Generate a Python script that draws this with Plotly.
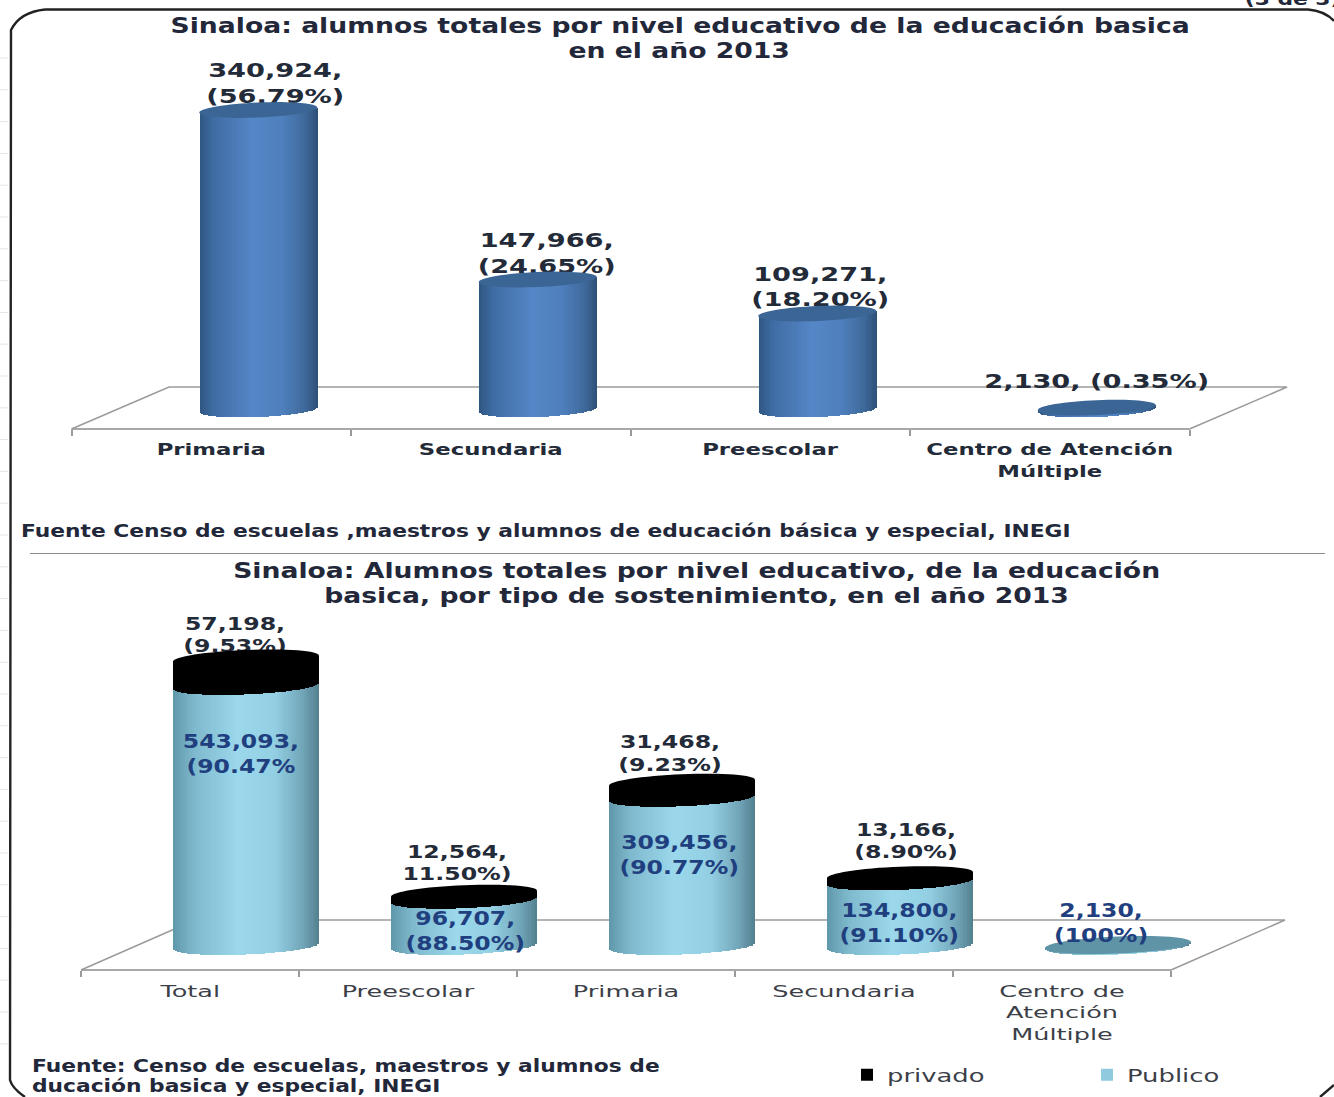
import math
import plotly.graph_objects as go

# ---------- data ----------
top_categories = ["Primaria", "Secundaria", "Preescolar", "Centro de Atención<br>Múltiple"]
top_values = [340924, 147966, 109271, 2130]
top_labels = ["340,924,<br>(56.79%)", "147,966,<br>(24.65%)", "109,271,<br>(18.20%)", "2,130, (0.35%)"]

bot_categories = ["Total", "Preescolar", "Primaria", "Secundaria", "Centro de<br>Atención<br>Múltiple"]
bot_publico = [543093, 96707, 309456, 134800, 2130]
bot_privado = [57198, 12564, 31468, 13166, 0]
bot_pub_labels = ["543,093,<br>(90.47%", "96,707,<br>(88.50%)", "309,456,<br>(90.77%)", "134,800,<br>(91.10%)", "2,130,<br>(100%)"]
bot_priv_labels = ["57,198,<br>(9.53%)", "12,564,<br>11.50%)", "31,468,<br>(9.23%)", "13,166,<br>(8.90%)", ""]

# ---------- layout constants (pixels) ----------
W, H = 1334, 1097
FONT = "DejaVu Sans"
N = 70
# text sizes; the source picture's letters are stretched sideways, so each size has a horizontal stretch
S_TITLE, S_TOPLAB, S_NOTE, S_TICK_B, S_TICK_R, S_PRIV, S_PUB, S_LEG = 20.5, 20, 18, 16.5, 16.6, 17, 19, 18.2
STRETCH = {S_TITLE: 1.30, S_TOPLAB: 1.36, S_NOTE: 1.21, S_TICK_B: 1.38, S_TICK_R: 1.54, S_PRIV: 1.39, S_PUB: 1.24, S_LEG: 1.42}


def px(x):
    return x / W


def py(y):
    return 1 - y / H


def hexrgb(c):
    return tuple(int(c[i:i + 2], 16) for i in (1, 3, 5))


def grad(stops, t):
    for (t0, c0), (t1, c1) in zip(stops, stops[1:]):
        if t <= t1:
            f = (t - t0) / (t1 - t0)
            a, b = hexrgb(c0), hexrgb(c1)
            return "#%02x%02x%02x" % tuple(round(a[i] + (b[i] - a[i]) * f) for i in range(3))
    return stops[-1][1]


BLUE = [(0, "#2f5682"), (.12, "#3f6ca3"), (.45, "#5586c6"), (.7, "#4f80bd"), (.9, "#3d6899"), (1, "#2e5077")]
AQUA = [(0, "#5f97aa"), (.15, "#7fb9cd"), (.45, "#9bd8ec"), (.7, "#93cfe3"), (.9, "#6fa3b5"), (1, "#527f8e")]

# chart geometry
T = dict(x0=71.5, step=279.5, front=429, back=387, base=409.5, top=40, right=1287, ppv=299.5 / 340924,
         off=47 / 279.5, a=59 / 279.5, b=7.5, tilt=2.5)
B = dict(x0=81, step=218, front=970, back=920, base=946, top=600, right=1285, ppv=287.5 / 600291,
         off=56 / 218, a=73 / 218, b=8.5, tilt=3)


def ellipse_path(cx, cy, g):
    pts = []
    for k in range(64):
        th = 2 * math.pi * k / 64
        u = math.cos(th)
        pts.append((cx + g["off"] + g["a"] * u, cy + (g["b"] * math.sin(th) + g["tilt"] * u) / g["ppv"]))
    return "M" + "L".join(f"{x:.4f},{y:.1f}" for x, y in pts) + "Z"


def strips(fig, g, xs, bottoms, tops, xa, ya, stops=None, color=None, name=None, rank=None):
    ww = 2 * g["a"] / N
    for i in range(N):
        t = (i + .5) / N
        u = 2 * t - 1
        low = (-g["b"] * math.sqrt(1 - u * u) + g["tilt"] * u) / g["ppv"]
        up = g["tilt"] * u / g["ppv"]
        base = [b + low for b in bottoms]
        hgt = [0 if tp == b else tp + up - (b + low) for b, tp in zip(bottoms, tops)]
        show = name is not None and i == int(N * .72)
        fig.add_bar(x=xs, y=hgt, base=base, width=ww * 1.2, offset=g["off"] + u * g["a"] - ww * .6,
                    marker=dict(color=color or grad(stops, t), line_width=0), xaxis=xa, yaxis=ya,
                    showlegend=show, name=name, legendrank=rank, hoverinfo="skip")


fig = go.Figure()

# ---------- top chart ----------
tx = list(range(len(top_categories)))
strips(fig, T, tx, [0] * len(tx), top_values, "x", "y", stops=BLUE)
top_label_dx = [17, 9, 3, 0]
fig.add_scatter(x=[i + T["off"] + d / T["step"] for i, d in zip(tx, top_label_dx)],
                y=[v + 25 / T["ppv"] for v in top_values], text=top_labels, mode="text",
                textposition="middle center", cliponaxis=False, showlegend=False, hoverinfo="skip",
                textfont=dict(family=FONT, weight="bold", size=S_TOPLAB, color="#232a38"), xaxis="x", yaxis="y")

# ---------- bottom chart ----------
bx = list(range(len(bot_categories)))
totals = [a + b for a, b in zip(bot_publico, bot_privado)]
strips(fig, B, bx, [0] * len(bx), bot_publico, "x2", "y2", stops=AQUA, name="Publico", rank=2)
strips(fig, B, bx, bot_publico, totals, "x2", "y2", color="#000000", name="privado", rank=1)
priv_dx = [-11, -7, -12, 6, 0]
priv_dy = [22, 28.5, 27.5, 32, 0]
fig.add_scatter(x=[i + B["off"] + d / B["step"] for i, d in zip(bx, priv_dx)],
                y=[v + d / B["ppv"] for v, d in zip(totals, priv_dy)], text=bot_priv_labels, mode="text",
                textposition="middle center", cliponaxis=False, showlegend=False, hoverinfo="skip",
                textfont=dict(family=FONT, weight="bold", size=S_PRIV, color="#232a38"), xaxis="x2", yaxis="y2")

# ---------- shapes ----------
shapes = []
for i, v in zip(tx, top_values):
    shapes.append(dict(type="path", xref="x", yref="y", path=ellipse_path(i, v, T), fillcolor="#3a6595",
                       line_width=0, layer="above"))
for i, v, p in zip(bx, totals, bot_privado):
    shapes.append(dict(type="path", xref="x2", yref="y2", path=ellipse_path(i, v, B),
                       fillcolor="#000000" if p else "#5f93a6", line_width=0, layer="above"))


def pline(points, color, width):
    d = "M" + "L".join(f"{px(x):.5f},{py(y):.5f}" for x, y in points)
    return dict(type="path", xref="paper", yref="paper", path=d, line=dict(color=color, width=width), layer="below")


for g, n_cat in ((T, 4), (B, 5)):
    x_end = g["x0"] + n_cat * g["step"]
    shapes.append(pline([(g["x0"], g["front"]), (x_end, g["front"])], "#a8a8a8", 2.2))
    shapes.append(pline([(g["x0"], g["front"]), (g["right"] - n_cat * g["step"], g["back"]), (g["right"], g["back"]),
                         (x_end, g["front"])], "#9a9a9a", 1.5))

# frame
frame_left = f"M{px(45)},{py(9.5)}Q{px(20)},{py(12)} {px(11)},{py(30)}L{px(10)},{py(1080)}Q{px(12)},{py(1088)} {px(25)},{py(1097)}"
frame_top = f"M{px(45)},{py(9.5)}L{px(1308)},{py(9.5)}Q{px(1325)},{py(11)} {px(1334)},{py(21)}"
frame_br = f"M{px(1320)},{py(1097)}L{px(1334)},{py(1085)}"
for d in (frame_left, frame_top, frame_br):
    shapes.append(dict(type="path", xref="paper", yref="paper", path=d, line=dict(color="#222222", width=2.4), layer="below"))
shapes.append(pline([(30, 553.5), (1325, 553.5)], "#8c8c8c", 1.2))
for k in range(32):
    yy = 58 + 31.8 * k
    shapes.append(pline([(0, yy), (8, yy)], "#e2e5ea", 1))


# ---------- text ----------
def note(x, y, text, size, anchor="center", color="#22283a"):
    return dict(xref="paper", yref="paper", x=px(x), y=py(y), text=text, showarrow=False, xanchor=anchor,
                yanchor="middle", align=anchor, font=dict(family=FONT, weight="bold", size=size, color=color))


annotations = [
    note(680, 26, "Sinaloa: alumnos totales por nivel educativo de la educación basica", S_TITLE),
    note(679, 51, "en el año 2013", S_TITLE),
    note(696, 571, "Sinaloa: Alumnos totales por nivel educativo, de la educación", S_TITLE),
    note(696, 596, "basica, por tipo de sostenimiento, en el año 2013", S_TITLE),
    note(19, 530, "Fuente Censo de escuelas ,maestros y alumnos de educación básica y especial, INEGI", S_NOTE, "left"),
    note(30, 1065.5, "Fuente: Censo de escuelas, maestros y alumnos de", S_NOTE, "left"),
    note(30, 1085.5, "ducación basica y especial, INEGI", S_NOTE, "left"),
    note(1292, -2, "(3 de 3)", S_NOTE),
]
pub_dx = [-5, 1, -3, -1, -17]
pub_yshift = [-68, -31, -57, -41, 22]
for i, v, d, s, lab in zip(bx, bot_publico, pub_dx, pub_yshift, bot_pub_labels):
    annotations.append(dict(xref="x2", yref="y2", x=i + B["off"] + d / B["step"], y=v, yshift=s, text=lab,
                            showarrow=False, xanchor="center", yanchor="middle",
                            font=dict(family=FONT, weight="bold", size=S_PUB, color="#1f3f7f")))


def xaxis(g, count, size, color, weight, anchor, standoff):
    return dict(
        domain=[px(g["x0"]), px(g["right"])],
        range=[-.5, -.5 + (g["right"] - g["x0"]) / g["step"]],
        tickmode="array", tickvals=list(range(count)), anchor=anchor,
        ticks="", ticklen=0, showgrid=False, zeroline=False, showline=False,
        tickfont=dict(family=FONT, weight=weight, size=size, color=color), ticklabelstandoff=standoff,
        minor=dict(tickmode="array", tickvals=[i - .5 for i in range(count + 1)], ticks="outside",
                   ticklen=6, tickwidth=2, tickcolor="#9a9a9a", showgrid=False),
    )


def yaxis(g, anchor):
    return dict(domain=[py(g["front"]), py(g["top"])],
                range=[(g["base"] - g["front"]) / g["ppv"], (g["base"] - g["top"]) / g["ppv"]],
                visible=False, anchor=anchor)


xa1 = xaxis(T, 4, S_TICK_B, "#232a38", "bold", "y", 9)
xa1["ticktext"] = top_categories
xa2 = xaxis(B, 5, S_TICK_R, "#3c3f48", "normal", "y2", 9)
xa2["ticktext"] = bot_categories

fig.update_layout(
    width=W, height=H, autosize=False, margin=dict(l=0, r=0, t=0, b=0),
    paper_bgcolor="white", plot_bgcolor="rgba(0,0,0,0)",
    barmode="overlay", bargap=0,
    xaxis=xa1, yaxis=yaxis(T, "x"), xaxis2=xa2, yaxis2=yaxis(B, "x2"),
    shapes=shapes, annotations=annotations,
    legend=dict(orientation="h", x=px(847), y=py(1075), xanchor="left", yanchor="middle",
                entrywidth=195, entrywidthmode="pixels", bgcolor="rgba(0,0,0,0)",
                font=dict(family=FONT, size=S_LEG, color="#3c3f48")),
)

stretch_js = "{" + ",".join(f'"{k}":{v}' for k, v in STRETCH.items()) + "}"
post = """
document.body.style.margin='0';
var STRETCH = %s;
function stretchTexts(){
  document.querySelectorAll('svg text').forEach(function(el){
    var k = String(parseFloat(getComputedStyle(el).fontSize));
    var sx = STRETCH[k];
    if(!sx || el.dataset.stretched) return;
    var b = el.getBBox();
    var start = getComputedStyle(el).textAnchor === 'start';
    var cx = start ? b.x : b.x + b.width/2;
    var old = el.getAttribute('transform') || '';
    el.setAttribute('transform', old + ' translate('+cx+',0) scale('+sx+',1) translate('+(-cx)+',0)');
    el.dataset.stretched = '1';
  });
}
setTimeout(stretchTexts, 60);
""" % stretch_js
fig.write_html("out.html", post_script=post, config={"displayModeBar": False})
